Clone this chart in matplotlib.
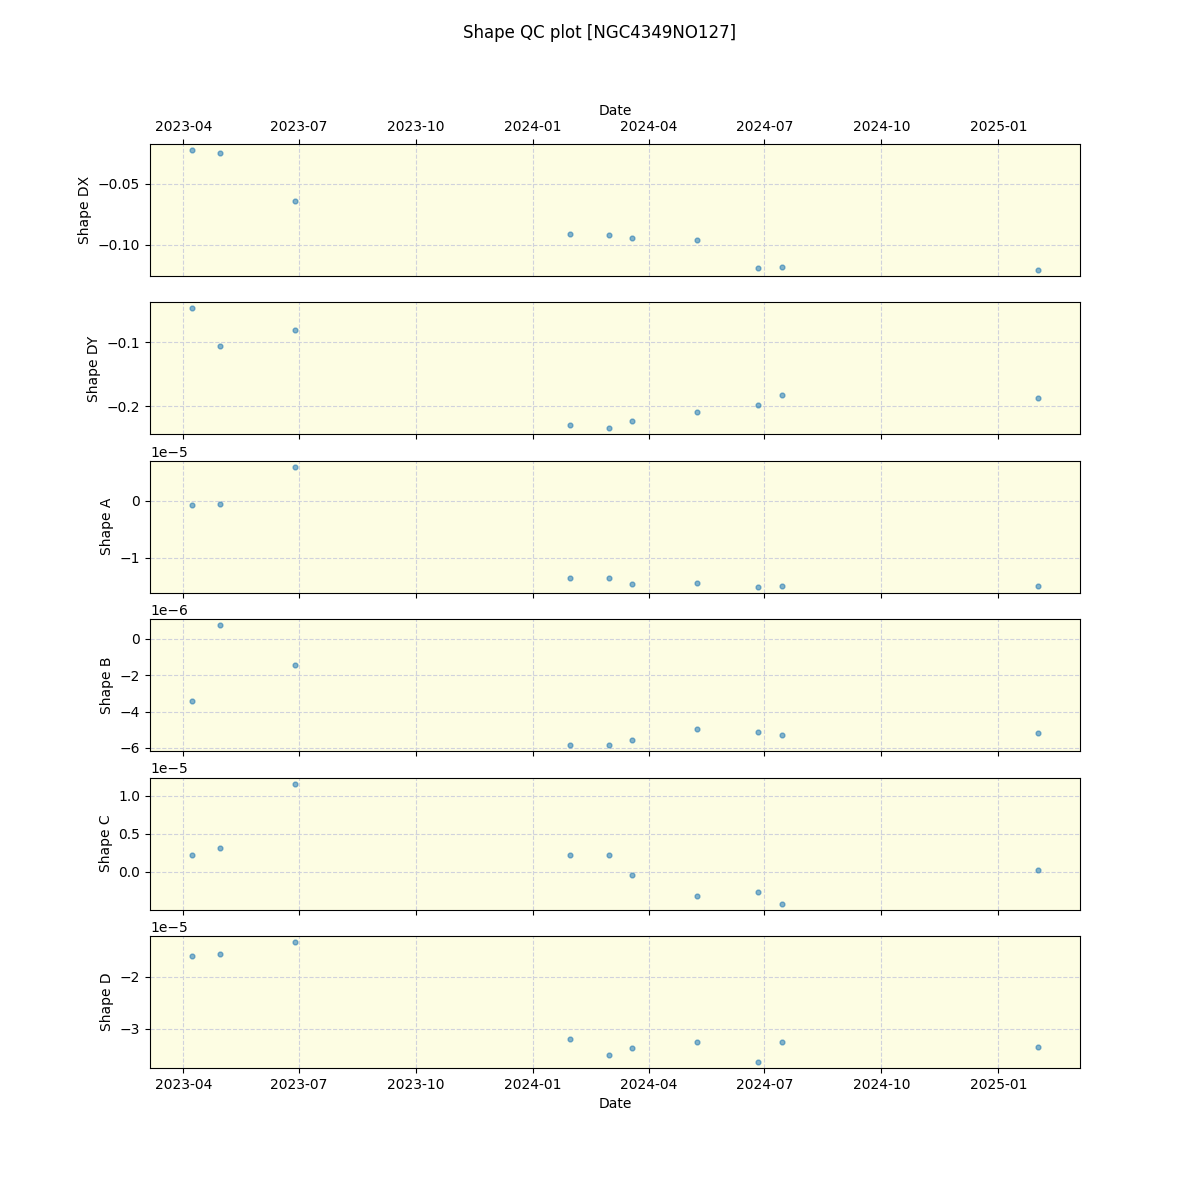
import numpy as np
import pandas as pd
import matplotlib
matplotlib.use("Agg")
import matplotlib.pyplot as plt

dates = pd.to_datetime(["2023-04-08", "2023-04-30", "2023-06-28", "2024-01-30",
                        "2024-03-01", "2024-03-19", "2024-05-09", "2024-06-26",
                        "2024-07-15", "2025-02-01"])

shape_dx = [-0.0224, -0.0246, -0.0639, -0.0910, -0.0918, -0.0943, -0.0959, -0.1189, -0.1180, -0.1205]
shape_dy = [-0.0469, -0.1063, -0.0813, -0.2297, -0.2344, -0.2234, -0.2094, -0.1984, -0.1828, -0.1875]
shape_a = np.array([-0.07, -0.053, 0.596, -1.351, -1.351, -1.456, -1.439, -1.509, -1.491, -1.491]) * 1e-5
shape_b = np.array([-3.41, 0.75, -1.45, -5.85, -5.85, -5.58, -4.97, -5.13, -5.30, -5.17]) * 1e-6
shape_c = np.array([0.224, 0.316, 1.158, 0.224, 0.224, -0.039, -0.316, -0.263, -0.421, 0.017]) * 1e-5
shape_d = np.array([-1.596, -1.558, -1.327, -3.192, -3.50, -3.365, -3.25, -3.635, -3.25, -3.34]) * 1e-5

series = [("Shape DX", shape_dx), ("Shape DY", shape_dy), ("Shape A", shape_a),
          ("Shape B", shape_b), ("Shape C", shape_c), ("Shape D", shape_d)]

fig, axes = plt.subplots(6, 1, figsize=(12, 12), sharex=True)
fig.suptitle("Shape QC plot [NGC4349NO127]")

for ax, (name, vals) in zip(axes, series):
    ax.set_facecolor("#fdfde3")
    ax.scatter(dates, vals, s=12, color="#1f77b4", alpha=0.55)
    ax.set_ylabel(name)
    ax.grid(True, linestyle="--", color="#d0d2dc", linewidth=0.8)
    ax.set_axisbelow(True)

axes[0].xaxis.tick_top()
axes[0].tick_params(axis="x", labeltop=True)
axes[0].xaxis.set_label_position("top")
axes[0].set_xlabel("Date")
axes[-1].set_xlabel("Date")

plt.savefig("out.png", dpi=100)
